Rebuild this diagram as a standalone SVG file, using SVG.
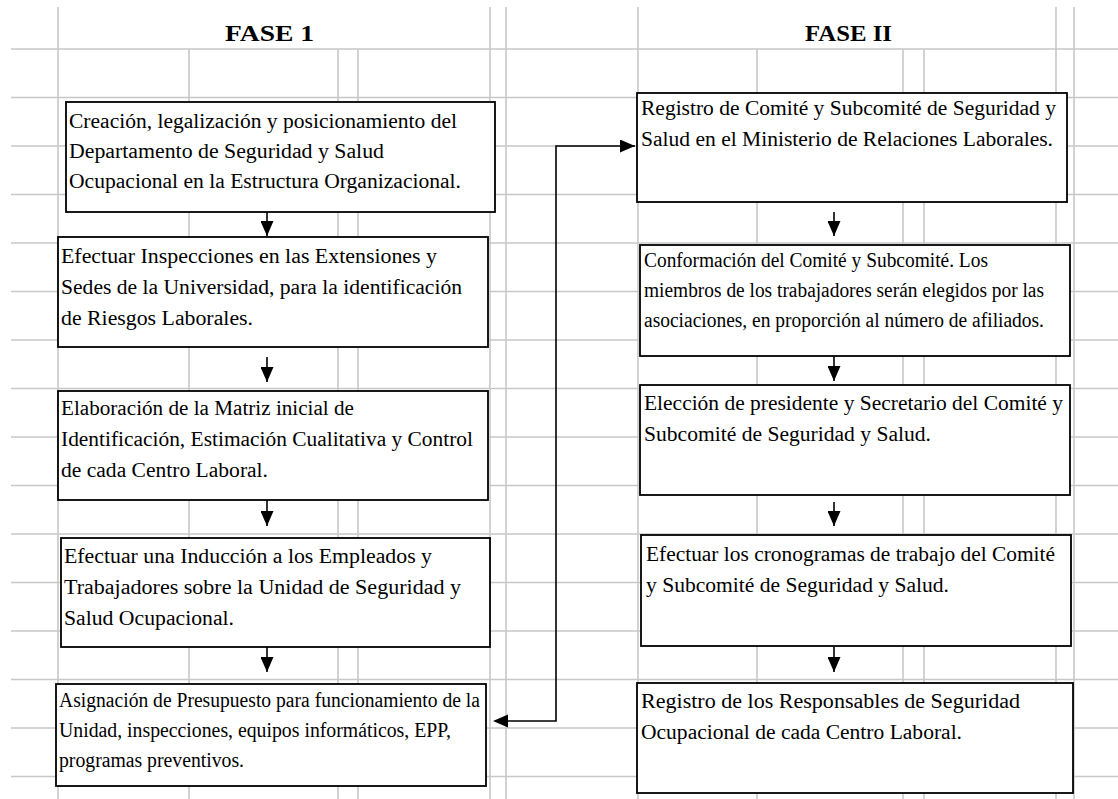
<svg xmlns="http://www.w3.org/2000/svg" width="1118" height="799" viewBox="0 0 1118 799">
<style>
.g{stroke:#c8c8c8;stroke-width:1.6;fill:none}
.box{fill:#fff;stroke:#000;stroke-width:1.8}
.t{font-family:"Liberation Serif","Times New Roman",serif;font-size:20.5px;fill:#000}
.h{font-family:"Liberation Serif","Times New Roman",serif;font-size:24px;font-weight:bold;fill:#000}
.c{stroke:#000;stroke-width:1.6;fill:none}
</style>
<defs>
<marker id="ah" markerUnits="userSpaceOnUse" markerWidth="16" markerHeight="13" refX="15" refY="6.5" orient="auto">
<path d="M0,0 L15,6.5 L0,13 z" fill="#000"/>
</marker>
</defs>
<rect width="1118" height="799" fill="#fff"/>
<g id="grid" class="g">
<path d="M11,49H1118M11,97.5H1118M11,146H1118M11,194.5H1118M11,243H1118M11,291.5H1118M11,340H1118M11,388.5H1118M11,437H1118M11,485.5H1118M11,534H1118M11,582.5H1118M11,631H1118M11,679.5H1118M11,728H1118M11,776.5H1118"/>
<path d="M58,7V799M490,7V799M506,7V799M638,7V799M1056,7V799M1074,7V799"/>
<path d="M189,49V799M338,49V799M358,49V799M757,49V799M903,49V799M924,49V799"/>
</g>
<g id="headers">
<text class="h" x="225" y="41" textLength="89" lengthAdjust="spacingAndGlyphs">FASE 1</text>
<text class="h" x="805" y="41" textLength="87" lengthAdjust="spacingAndGlyphs">FASE II</text>
</g>
<g id="connectors">
<line class="c" x1="267" y1="212" x2="267" y2="236" marker-end="url(#ah)"/>
<line class="c" x1="267" y1="357" x2="267" y2="382" marker-end="url(#ah)"/>
<line class="c" x1="267" y1="500" x2="267" y2="526" marker-end="url(#ah)"/>
<line class="c" x1="267" y1="647" x2="267" y2="672" marker-end="url(#ah)"/>
<line class="c" x1="834" y1="212" x2="834" y2="236" marker-end="url(#ah)"/>
<line class="c" x1="834" y1="356" x2="834" y2="381" marker-end="url(#ah)"/>
<line class="c" x1="834" y1="502" x2="834" y2="526" marker-end="url(#ah)"/>
<line class="c" x1="834" y1="647" x2="834" y2="672" marker-end="url(#ah)"/>
<polyline class="c" points="505,721 556,721 556,146 635,146" marker-end="url(#ah)"/>
<path d="M493,721 L508,714.5 L508,727.5 z" fill="#000"/>
</g>
<g id="L1">
<rect class="box" x="66" y="102" width="429" height="110"/>
<text class="t" x="69" y="128" textLength="388" lengthAdjust="spacingAndGlyphs">Creación, legalización y posicionamiento del</text>
<text class="t" x="69" y="158" textLength="315" lengthAdjust="spacingAndGlyphs">Departamento de Seguridad y Salud</text>
<text class="t" x="69" y="188" textLength="392" lengthAdjust="spacingAndGlyphs">Ocupacional en la Estructura Organizacional.</text>
</g>
<g id="L2">
<rect class="box" x="58" y="237" width="430" height="110"/>
<text class="t" x="61" y="263" textLength="376" lengthAdjust="spacingAndGlyphs">Efectuar Inspecciones en las Extensiones y</text>
<text class="t" x="61" y="294" textLength="401" lengthAdjust="spacingAndGlyphs">Sedes de la Universidad, para la identificación</text>
<text class="t" x="61" y="325" textLength="192" lengthAdjust="spacingAndGlyphs">de Riesgos Laborales.</text>
</g>
<g id="L3">
<rect class="box" x="58" y="391" width="430" height="109"/>
<text class="t" x="61" y="415" textLength="293" lengthAdjust="spacingAndGlyphs">Elaboración de la Matriz inicial de</text>
<text class="t" x="61" y="446" textLength="412" lengthAdjust="spacingAndGlyphs">Identificación, Estimación Cualitativa y Control</text>
<text class="t" x="61" y="477" textLength="207" lengthAdjust="spacingAndGlyphs">de cada Centro Laboral.</text>
</g>
<g id="L4">
<rect class="box" x="61" y="538" width="429" height="109"/>
<text class="t" x="64" y="563" textLength="368" lengthAdjust="spacingAndGlyphs">Efectuar una Inducción a los Empleados y</text>
<text class="t" x="64" y="594" textLength="397" lengthAdjust="spacingAndGlyphs">Trabajadores sobre la Unidad de Seguridad y</text>
<text class="t" x="64" y="625" textLength="170" lengthAdjust="spacingAndGlyphs">Salud Ocupacional.</text>
</g>
<g id="L5">
<rect class="box" x="56" y="684" width="430" height="102"/>
<text class="t" x="59" y="707" textLength="421" lengthAdjust="spacingAndGlyphs">Asignación de Presupuesto para funcionamiento de la</text>
<text class="t" x="59" y="737" textLength="392" lengthAdjust="spacingAndGlyphs">Unidad, inspecciones, equipos informáticos, EPP,</text>
<text class="t" x="59" y="767" textLength="185" lengthAdjust="spacingAndGlyphs">programas preventivos.</text>
</g>
<g id="R1">
<rect class="box" x="637" y="93" width="430" height="109"/>
<text class="t" x="641" y="115" textLength="415" lengthAdjust="spacingAndGlyphs">Registro de Comité y Subcomité de Seguridad y</text>
<text class="t" x="641" y="146" textLength="412" lengthAdjust="spacingAndGlyphs">Salud en el Ministerio de Relaciones Laborales.</text>
</g>
<g id="R2">
<rect class="box" x="640" y="245" width="430" height="111"/>
<text class="t" x="644" y="267" textLength="344" lengthAdjust="spacingAndGlyphs">Conformación del Comité y Subcomité. Los</text>
<text class="t" x="644" y="297" textLength="400" lengthAdjust="spacingAndGlyphs">miembros de los trabajadores serán elegidos por las</text>
<text class="t" x="644" y="327" textLength="400" lengthAdjust="spacingAndGlyphs">asociaciones, en proporción al número de afiliados.</text>
</g>
<g id="R3">
<rect class="box" x="640" y="385" width="430" height="110"/>
<text class="t" x="644" y="410" textLength="419" lengthAdjust="spacingAndGlyphs">Elección de presidente y Secretario del Comité y</text>
<text class="t" x="644" y="441" textLength="287" lengthAdjust="spacingAndGlyphs">Subcomité de Seguridad y Salud.</text>
</g>
<g id="R4">
<rect class="box" x="641" y="535" width="430" height="111"/>
<text class="t" x="646" y="561" textLength="409" lengthAdjust="spacingAndGlyphs">Efectuar los cronogramas de trabajo del Comité</text>
<text class="t" x="646" y="592" textLength="303" lengthAdjust="spacingAndGlyphs">y Subcomité de Seguridad y Salud.</text>
</g>
<g id="R5">
<rect class="box" x="637" y="683" width="436" height="110"/>
<text class="t" x="641" y="708" textLength="379" lengthAdjust="spacingAndGlyphs">Registro de los Responsables de Seguridad</text>
<text class="t" x="641" y="739" textLength="321" lengthAdjust="spacingAndGlyphs">Ocupacional de cada Centro Laboral.</text>
</g>
</svg>
